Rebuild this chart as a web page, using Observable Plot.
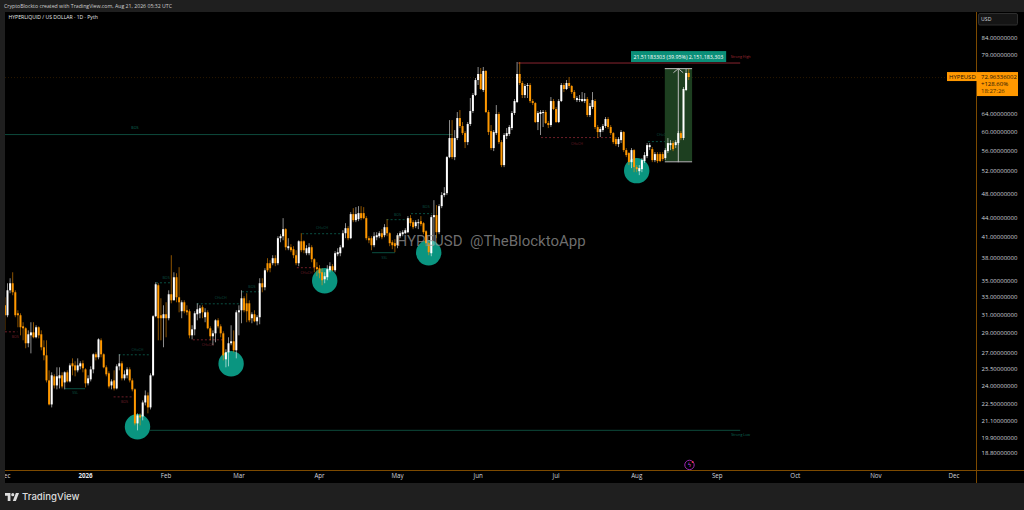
<!DOCTYPE html>
<html><head><meta charset="utf-8">
<script src="https://cdn.jsdelivr.net/npm/d3@7"></script>
<script src="https://cdn.jsdelivr.net/npm/@observablehq/plot@0.6"></script>
<style>
html,body{margin:0;padding:0;background:#1f1f1f;width:1024px;height:510px;overflow:hidden;font-family:"Open Sans",Roboto,sans-serif}
#head{height:12px;line-height:12px;padding-left:4px;font-size:5.2px;color:#cfcfcf;white-space:nowrap}
#chart{margin-left:5px;height:471px}
#foot{height:27px;position:relative;color:#dcdcdc}
#foot svg{position:absolute;left:5px;top:9.5px}
#foot span{position:absolute;left:22px;top:7px;font:500 9.6px/14px Inter,Roboto,sans-serif}
</style></head><body>
<div id="head">CryptoBlockto created with TradingView.com, Aug 21, 2026 05:32 UTC</div>
<div id="chart"></div>
<div id="foot"><svg width="14" height="8" viewBox="0 0 36 20"><path fill="#dcdcdc" d="M0 0h14v20H7V7H0z"/><circle cx="20" cy="4" r="4" fill="#dcdcdc"/><path fill="#dcdcdc" d="M28 0h8l-8 20h-8z"/></svg><span>TradingView</span></div>
<script>
// Daily candles from 1 Dec 2025, one value per day, in USD
const opens = [
32.03,30.90,33.81,34.68,33.57,31.12,30.90,29.69,29.48,27.93,
28.74,29.05,28.54,29.59,28.85,27.53,26.74,24.43,22.40,24.79,
23.99,24.61,24.88,24.25,25.15,24.34,25.98,25.79,25.33,25.70,
25.98,25.42,24.17,24.52,25.42,26.84,26.55,28.23,26.84,25.61,
25.06,23.99,24.43,23.73,25.70,25.98,24.61,24.88,25.42,24.43,
23.65,20.92,21.53,21.45,22.56,23.14,22.16,24.88,30.79,34.43,
30.90,30.57,31.01,30.57,33.33,32.61,35.44,32.97,31.35,32.38,
31.46,31.35,28.74,29.37,31.01,31.12,31.80,30.68,31.23,29.48,
28.64,28.95,30.34,29.69,28.95,26.36,27.03,27.93,28.13,27.23,
31.23,31.46,32.85,32.26,32.26,30.57,31.01,30.23,30.68,34.68,
34.18,37.28,37.28,37.28,37.96,37.28,40.80,41.09,42.15,39.35,
39.49,39.21,38.37,37.28,40.35,40.35,38.65,38.65,39.49,37.82,
36.75,36.61,36.08,35.18,35.44,36.34,36.88,36.34,38.51,38.65,
39.49,41.54,42.30,40.80,44.50,43.54,43.70,44.66,44.66,43.86,
40.80,40.80,39.78,40.94,41.09,41.54,41.24,42.45,41.54,40.21,
40.07,39.78,41.09,41.39,41.54,41.69,43.86,43.23,42.61,43.07,
43.38,43.07,41.84,40.07,38.65,44.02,44.34,41.69,45.80,47.66,
48.00,54.66,58.55,54.66,58.55,62.93,61.14,59.61,57.70,61.59,
64.54,68.38,72.18,73.77,69.62,74.57,64.31,60.04,56.47,59.61,
63.85,57.70,53.11,58.98,59.40,60.70,64.08,66.67,73.77,71.41,
68.38,70.64,70.89,66.91,66.43,62.03,63.85,64.08,64.31,61.81,
61.36,66.91,65.01,62.03,66.91,70.89,69.88,71.41,70.64,69.12,
67.15,67.15,66.91,66.91,67.40,63.62,65.48,66.91,60.92,59.83,
60.26,61.14,62.70,60.92,59.61,58.34,57.29,58.12,59.83,56.06,
55.46,53.68,56.06,52.72,51.96,52.34,53.88,54.86,56.67,56.26,
54.07,55.26,55.26,55.26,54.46,55.86,57.08,57.50,57.08,57.50,
59.61,58.55,69.62,74.04];
const highs = [
32.97,34.68,35.31,36.08,33.81,31.46,31.12,30.13,29.59,29.26,
30.13,30.13,29.80,29.69,29.26,28.23,28.23,25.33,25.15,24.97,
25.61,25.61,25.15,25.24,25.33,25.98,26.45,26.17,26.45,26.17,
26.26,25.52,24.88,25.70,26.93,27.03,28.43,28.43,26.93,25.79,
25.24,24.52,25.33,25.89,26.84,26.17,25.33,25.61,25.61,24.61,
23.73,21.69,21.69,22.73,23.56,23.39,25.06,30.90,34.80,34.68,
32.85,32.03,32.38,33.81,38.37,36.08,35.95,36.75,32.61,32.61,
32.03,31.57,29.80,31.35,32.26,32.03,32.03,31.69,31.46,29.69,
29.26,30.45,30.57,29.91,29.16,27.33,28.54,29.80,29.26,31.46,
32.03,33.81,33.09,33.45,32.61,31.23,31.46,30.90,35.31,35.31,
36.61,37.96,37.68,38.37,38.37,41.09,41.39,43.86,42.30,40.80,
39.92,39.64,39.07,40.50,41.54,40.50,39.78,40.07,39.78,37.96,
37.41,37.01,36.61,36.08,37.01,37.41,37.15,38.93,39.35,39.78,
41.99,43.07,42.61,44.82,45.47,45.64,45.80,45.80,45.64,44.18,
41.09,41.09,41.69,41.69,41.84,42.15,42.92,43.70,41.69,40.50,
40.65,41.54,41.84,41.99,42.30,44.18,44.34,43.54,43.54,43.70,
44.18,43.23,41.99,40.21,44.34,46.80,45.97,46.13,48.17,49.05,
54.86,62.47,62.47,60.26,64.31,64.77,62.03,60.04,62.03,67.64,
68.87,72.72,75.66,75.38,75.66,74.84,64.77,61.36,60.26,65.95,
64.31,58.12,59.61,60.70,61.36,64.54,67.40,77.03,77.03,71.92,
71.15,71.41,71.41,67.40,66.67,64.54,64.77,64.77,64.77,62.25,
67.89,67.40,65.48,67.40,71.41,71.41,72.18,72.98,70.89,69.62,
68.13,68.38,69.12,68.87,67.89,66.43,69.12,67.40,61.36,60.92,
61.59,63.16,63.16,61.36,59.83,58.76,58.76,60.26,60.04,56.47,
55.66,56.47,56.26,53.11,53.11,54.46,55.66,57.50,57.50,56.67,
55.66,55.66,55.66,55.66,56.47,58.55,58.12,57.91,58.12,60.04,
60.04,70.38,75.11,75.11];
const lows = [
29.26,30.68,33.45,33.21,30.68,29.59,28.74,28.23,27.43,27.53,
26.93,28.43,28.43,28.43,27.23,26.26,24.25,22.32,22.16,23.73,
23.65,23.73,23.73,23.65,24.25,24.25,24.88,24.79,25.15,25.42,
25.15,23.82,23.99,24.34,25.06,26.26,26.36,26.55,25.52,24.79,
23.73,23.65,23.56,23.65,25.33,24.43,24.43,24.61,24.25,23.48,
20.77,20.40,20.77,21.15,22.32,21.69,22.00,24.79,30.68,28.23,
28.23,27.53,28.54,30.34,32.26,32.61,32.38,31.23,30.57,31.12,
30.90,28.43,28.33,28.74,30.34,30.57,30.57,30.13,29.37,28.23,
27.73,28.03,29.48,28.54,26.26,25.61,25.70,27.73,27.03,26.45,
28.74,30.02,31.23,30.13,30.13,30.02,30.13,29.80,29.91,33.57,
33.81,36.08,36.08,37.01,36.88,37.01,40.21,40.50,39.07,39.07,
38.79,37.96,37.01,36.88,38.79,38.65,38.37,38.37,37.41,36.08,
35.57,35.31,34.43,34.68,35.06,36.08,36.21,36.08,38.23,38.23,
39.35,40.80,40.50,40.65,43.23,43.23,43.38,43.54,43.70,40.50,
40.07,39.07,39.49,40.50,40.80,40.65,40.94,41.09,39.64,39.21,
38.79,39.35,40.80,41.09,41.39,41.54,42.61,42.15,42.30,42.15,
42.61,41.39,39.64,38.37,38.23,39.78,40.80,41.39,45.47,47.31,
47.66,54.46,54.27,54.07,58.12,60.70,59.19,56.47,57.08,61.14,
64.08,68.13,70.89,69.62,69.12,64.08,59.19,56.06,55.86,59.19,
57.29,52.72,52.72,58.34,58.98,60.26,63.62,66.43,70.89,67.64,
67.64,67.64,66.43,65.95,61.81,60.26,59.19,60.92,61.59,60.70,
60.92,64.77,61.81,61.81,66.67,69.12,69.62,70.13,68.63,67.15,
66.67,66.67,66.67,66.43,63.16,63.16,65.01,60.48,58.55,58.76,
59.83,60.70,60.48,59.19,57.29,56.88,56.67,57.50,55.66,54.66,
53.11,52.53,51.77,51.77,51.22,51.77,53.49,54.46,56.06,53.68,
53.68,53.49,53.68,53.88,54.07,55.46,56.06,55.86,56.47,57.08,
58.12,58.12,69.37,72.18];
const closes = [
30.90,33.81,34.68,33.57,30.90,30.90,29.59,29.48,27.93,28.85,
29.05,28.54,29.59,28.74,27.53,26.74,24.43,22.40,24.88,23.99,
24.79,24.88,23.90,25.15,24.34,25.79,25.70,25.33,25.79,25.98,
25.52,24.17,24.61,25.42,26.84,26.55,28.33,26.84,25.61,24.97,
23.90,24.34,23.73,25.70,25.98,24.61,24.97,25.42,24.43,23.65,
20.92,21.53,21.37,22.56,23.14,22.16,24.88,30.79,34.55,30.57,
30.57,31.01,30.57,33.33,32.61,35.44,32.97,32.38,32.38,31.35,
31.23,28.74,29.37,31.12,31.57,31.69,31.23,31.23,29.48,28.64,
28.95,30.34,29.69,28.95,26.74,27.03,27.93,28.13,27.23,31.23,
31.46,32.85,31.46,31.35,30.34,31.01,30.23,30.68,34.68,34.18,
36.34,36.34,36.61,37.96,37.28,40.80,41.09,42.15,39.49,39.64,
39.07,38.37,37.28,40.35,39.07,39.07,39.35,39.49,37.82,36.75,
36.48,35.95,35.06,35.57,36.48,36.88,36.34,38.65,38.79,39.49,
41.54,42.30,40.80,44.50,43.54,44.50,44.66,43.86,43.86,40.80,
40.50,39.78,41.09,41.24,41.54,40.94,42.45,41.54,40.07,39.78,
39.64,41.24,41.54,41.69,41.99,43.86,43.07,42.45,43.23,43.23,
42.92,41.69,40.07,38.79,44.02,44.34,41.69,45.80,47.66,48.00,
54.66,58.55,54.66,58.55,62.93,61.14,59.61,57.70,61.59,64.54,
68.38,72.18,73.77,69.88,74.57,64.31,59.83,56.47,59.83,63.85,
57.70,53.11,59.19,59.61,60.92,64.08,66.91,73.77,71.41,68.38,
70.64,70.89,66.91,66.43,62.03,64.08,64.31,64.31,61.81,61.36,
66.91,65.01,62.03,66.91,70.89,69.88,71.41,70.64,69.12,67.64,
67.64,67.40,67.40,67.40,63.62,65.71,67.15,60.92,59.83,60.48,
61.14,62.70,60.92,59.61,57.70,57.29,58.34,59.83,56.06,55.06,
53.68,56.06,52.72,52.34,52.53,54.07,55.06,57.08,57.08,54.07,
55.26,53.88,53.88,54.27,56.06,57.50,57.50,56.26,57.70,59.61,
58.55,69.88,74.04,72.96336002];

// Price and time axes
const priceTicks = [84,79,74,69,64,60,56,52,48,44,41,38,35,33,31,29,27,25.5,24,22.5,21.1,19.9,18.8];
const monthDates = ["2025-12-01","2026-02-01","2026-03-01","2026-04-01","2026-05-01","2026-06-01","2026-07-01","2026-08-01","2026-09-01","2026-10-01","2026-11-01","2026-12-01"];
const monthLabels = ["Dec","Feb","Mar","Apr","May","Jun","Jul","Aug","Sep","Oct","Nov","Dec"];
const yearDate = "2026-01-01";
const yearLabel = "2026";

// Teal swing-low circles: day offset and price
const circleDays = [51,87,123,163,243];
const circlePrices = [20.70,25.99,35.06,38.79,52.15];

// Market-structure segments
const structLabel = ["BOS","BOS","CHoCH","SSL","BOS","CHoCH","CHoCH","BOS","CHoCH","CHoCH","BOS","BOS","SSL","CHoCH","CHoCH"];
const structKind  = ["bear","bull","bull","ssl","bear","bull","bear","bull","bull","bear","bull","bull","ssl","bear","bull"];
const structStart = [0.2,58.3,44,23.3,42,74,72.5,91.4,114.5,112.5,147,156.4,141.4,206.4,247.5];
const structEnd   = [5,64.4,56,31,49,91,84,98.3,130,120.6,155,164.5,150.2,233.7,258.7];
const structPrice = [29.16,34.80,26.84,23.75,23.06,32.26,28.33,33.69,41.54,36.75,43.70,44.66,38.79,58.76,57.91];
const structLabelDay = [4,62,51,27,46,83,78,95,122,116,151,162,146,220,253];
const structLabelPrice = [28.64,35.44,27.33,23.39,22.64,32.97,27.83,34.31,42.45,36.08,44.50,45.80,38.09,57.50,59.40];

// Key levels
const levelLabel = ["BOS","Strong Low","Strong High"];
const levelStart = [0,56,197.5];
const levelEnd = [172.5,283,283];
const levelPrice = [59.40,20.44,76.89];
const levelLabelDay = [50,283,283];
const levelLabelPrice = [60.92,20.11,78.72];

// Measure tool
const measureStart = 254, measureEnd = 264.5, measureMid = 259;
const measureLow = 53.84, measureHigh = 75.35;
const measureText = "21.51183303 (39.95%) 2,151,183,303";
const lastPrice = 72.96336002;

const day = i => new Date(Date.UTC(2025,11,1) + i*864e5);
const candles = opens.map((o,i)=>({date:day(i),o,h:highs[i],l:lows[i],c:closes[i]}));
const UP="#ffffff", DOWN="#ff9800";
const col = d => d.c>=d.o?UP:DOWN;
const structCol = {bull:"#0a4f42",bear:"#6e1f28",ssl:"#0a4f42"};
const structs = structLabel.map((t,i)=>({t,k:structKind[i],a:day(structStart[i]),b:day(structEnd[i]),p:structPrice[i],ld:day(structLabelDay[i]),lp:structLabelPrice[i]}));
const levels = levelLabel.map((t,i)=>({t,a:day(levelStart[i]),b:day(levelEnd[i]),p:levelPrice[i],ld:day(levelLabelDay[i]),lp:levelLabelPrice[i],c:t==="Strong High"?"#8a2530":"#0d4a3c"}));
const circles = circleDays.map((d,i)=>({d:day(d),p:circlePrices[i]}));
const FONT='"Open Sans",Roboto,sans-serif';

// Price tag, USD box and chart borders
const chrome = (index,{y},values,dims) => {
  const right = dims.width-dims.marginRight, bottom = dims.height-dims.marginBottom;
  const g = d3.create("svg:g").attr("font-family",FONT).attr("font-size",6).attr("text-anchor","start");
  const line = (x1,y1,x2,y2)=>g.append("line").attr("x1",x1).attr("y1",y1).attr("x2",x2).attr("y2",y2).attr("stroke","#7d4a00").attr("stroke-width",1);
  line(0,bottom+.5,dims.width,bottom+.5);
  line(right+.5,0,right+.5,dims.height);
  g.append("rect").attr("x",right+2.5).attr("y",1.5).attr("width",39).attr("height",11.5).attr("rx",1.5).attr("fill","#151515").attr("stroke","#2e2e2e");
  g.append("text").attr("x",right+5).attr("y",9.3).attr("fill","#d1d4dc").attr("font-size",5.2).text("USD");
  const py = y(lastPrice);
  g.append("rect").attr("x",right-29).attr("y",py-5).attr("width",30).attr("height",9).attr("fill","#ff9800");
  g.append("rect").attr("x",right+1).attr("y",py-5).attr("width",41).attr("height",24).attr("fill","#ff9800");
  const txt=(x,dy,s,c)=>g.append("text").attr("x",x).attr("y",py+dy).attr("fill",c).text(s);
  txt(right-27,1.9,"HYPEUSD","#1a1208");
  txt(right+5,1.9,lastPrice.toFixed(8),"#1a1208");
  txt(right+5,9.2,"+128.60%","#1a1208");
  txt(right+5,16,"18:27:26","#4a2c00");
  return g.node();
};

const plot = Plot.plot({
  width:1019, height:471,
  marginLeft:0, marginTop:0, marginRight:48, marginBottom:13,
  style:{background:"#000",fontFamily:FONT,color:"#d1d4dc"},
  x:{type:"utc",domain:[day(0),day(365)],range:[-0.6,948.4]},
  y:{type:"log",domain:[84,18.8],range:[26,441]},
  color:{type:"identity"},
  marks:[
    Plot.ruleY([lastPrice],{stroke:"#ff9800",strokeOpacity:.16,strokeDasharray:"1 2",strokeWidth:1}),
    Plot.ruleY(levels,{x1:"a",x2:"b",y:"p",stroke:"c",strokeWidth:1}),
    Plot.text(levels,{x:"ld",y:"lp",text:"t",fill:d=>d.t==="Strong High"?"#a52a35":"#0c6b58",fontSize:3.6}),
    Plot.ruleY(structs,{x1:"a",x2:"b",y:"p",stroke:d=>structCol[d.k],strokeWidth:1,filter:d=>d.k==="ssl"}),
    Plot.ruleY(structs,{x1:"a",x2:"b",y:"p",stroke:d=>structCol[d.k],strokeWidth:1,strokeDasharray:"2 2",filter:d=>d.k!=="ssl"}),
    Plot.text(structs,{x:"ld",y:"lp",text:"t",fill:d=>structCol[d.k],fontSize:3.6}),
    Plot.rect([0],{x1:()=>day(measureStart),x2:()=>day(measureEnd),y1:()=>measureLow,y2:()=>measureHigh,fill:"#1d3f20"}),
    Plot.dot(circles,{x:"d",y:"p",r:12.7,fill:"#0a9580",stroke:"none"}),
    Plot.ruleY([measureLow,measureHigh],{x1:()=>day(measureStart),x2:()=>day(measureEnd),stroke:"#bdbdbd",strokeWidth:1}),
    Plot.arrow([0],{x1:()=>day(measureMid),x2:()=>day(measureMid),y1:()=>measureLow,y2:()=>measureHigh,stroke:"#bdbdbd",strokeWidth:1,bend:0,headLength:9,headAngle:100,insetStart:0,insetEnd:0}),
    Plot.ruleX(candles,{x:"date",y1:"l",y2:"h",stroke:col,strokeWidth:1,strokeOpacity:.55}),
    Plot.ruleX(candles,{x:"date",y1:"o",y2:"c",stroke:col,strokeWidth:2}),
    Plot.rect([0],{x1:()=>day(241),x2:()=>day(277.6),y1:()=>77.03,y2:()=>80.13,fill:"#0a8f78"}),
    Plot.text([measureText],{x:()=>day(259),y:()=>78.5,text:d=>d,fill:"#fff",fontSize:5.3}),
    Plot.text(["HYPEUSD  @TheBlocktoApp"],{x:()=>day(187),y:()=>40.43,text:d=>d,fill:"#9a9a9a",fillOpacity:.72,fontSize:15,fontFamily:"Roboto,sans-serif"}),
    Plot.text(["HYPERLIQUID / US DOLLAR · 1D · Pyth"],{frameAnchor:"top-left",dx:3,dy:3,text:d=>d,fill:"#e8e8e8",fontSize:5.1,lineAnchor:"top"}),
    Plot.dot([0],{x:()=>day(263.3),y:()=>18.04,r:4.7,stroke:"#9c27b0",fill:"none",strokeWidth:1}),
    Plot.text(["ϟ"],{x:()=>day(263.3),y:()=>18.04,text:d=>d,fill:"#d040e0",fontSize:6,fontFamily:"DejaVu Sans"}),
    Plot.dot([0],{x:()=>day(264.5),y:()=>18.24,r:1,fill:"#f23645"}),
    Plot.axisY(priceTicks,{anchor:"right",tickSize:0,tickPadding:5,tickFormat:d=>d.toFixed(8),fontSize:6,fill:"#d1d4dc",label:null}),
    Plot.axisX(monthDates.map(d=>new Date(d)),{anchor:"bottom",tickSize:0,tickPadding:3,tickFormat:d=>monthLabels[monthDates.indexOf(d.toISOString().slice(0,10))],fontSize:6.2,fill:"#d1d4dc",label:null}),
    Plot.axisX([new Date(yearDate)],{anchor:"bottom",tickSize:0,tickPadding:3,tickFormat:()=>yearLabel,fontSize:6.2,fontWeight:"bold",fill:"#e4e6ea",label:null}),
    chrome
  ]
});
document.getElementById("chart").append(plot);
</script>
</body></html>
